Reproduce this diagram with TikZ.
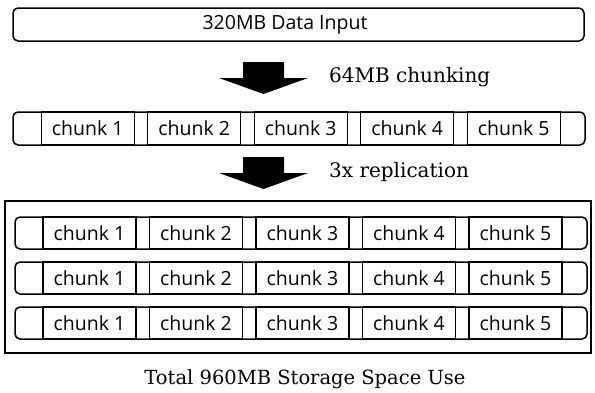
\documentclass[tikz,border=0pt]{standalone}
\usepackage{fontspec}
\setmainfont{DejaVu Serif}
\newfontfamily\chunkfont{Open Sans}
\begin{document}
\begin{tikzpicture}[x=1pt,y=-1pt,
    rowbox/.style={draw, line width=1.5pt, rounded corners=5pt, minimum width=572pt, minimum height=33pt, inner sep=0pt},
    chunkbox/.style={draw, line width=1.3pt, fill=white, minimum width=93pt, minimum height=33pt, inner sep=0pt, font=\chunkfont\fontsize{19.5}{21}\selectfont},
    note/.style={font=\fontsize{20}{22}\selectfont, inner sep=0pt}]

    \useasboundingbox (0,0) rectangle (595,392);

    % input
    \node [rowbox, minimum width=571pt] (input) at (298.5,24.5) {};
    \node [font=\chunkfont\fontsize{19.5}{21}\selectfont, inner sep=0pt] (inputtext) at (285,24.5) {320MB Data Input};

    % first arrow
    \fill (243,62) -- (284,62) -- (284,78) -- (308,78) -- (263.5,94) -- (219,78) -- (243,78) -- cycle;
    \node [note, anchor=west] (chunking) at (329,77) {64MB chunking};

    % chunked data
    \node [rowbox] (row) at (299,128.5) {};
    \node [chunkbox] (c1) at (87.75,128.5) {chunk 1};
    \node [chunkbox] (c2) at (194.25,128.5) {chunk 2};
    \node [chunkbox] (c3) at (300.75,128.5) {chunk 3};
    \node [chunkbox] (c4) at (407.25,128.5) {chunk 4};
    \node [chunkbox] (c5) at (513.75,128.5) {chunk 5};

    % second arrow
    \fill (243,157) -- (284,157) -- (284,173) -- (308,173) -- (263.5,189) -- (219,173) -- (243,173) -- cycle;
    \node [note, anchor=west] (replication) at (329,172) {3x replication};

    % storage
    \draw [line width=1.8pt] (5,201) rectangle (591,353);

    \node [rowbox, minimum height=32pt] (rowa) at (301,233) {};
    \node [chunkbox, minimum height=32pt] (a1) at (89.5,233) {chunk 1};
    \node [chunkbox, minimum height=32pt] (a2) at (196,233) {chunk 2};
    \node [chunkbox, minimum height=32pt] (a3) at (302.5,233) {chunk 3};
    \node [chunkbox, minimum height=32pt] (a4) at (409,233) {chunk 4};
    \node [chunkbox, minimum height=32pt] (a5) at (515.5,233) {chunk 5};

    \node [rowbox, minimum height=32pt] (rowb) at (301,278) {};
    \node [chunkbox, minimum height=32pt] (b1) at (89.5,278) {chunk 1};
    \node [chunkbox, minimum height=32pt] (b2) at (196,278) {chunk 2};
    \node [chunkbox, minimum height=32pt] (b3) at (302.5,278) {chunk 3};
    \node [chunkbox, minimum height=32pt] (b4) at (409,278) {chunk 4};
    \node [chunkbox, minimum height=32pt] (b5) at (515.5,278) {chunk 5};

    \node [rowbox, minimum height=32pt] (rowc) at (301,323) {};
    \node [chunkbox, minimum height=32pt] (d1) at (89.5,323) {chunk 1};
    \node [chunkbox, minimum height=32pt] (d2) at (196,323) {chunk 2};
    \node [chunkbox, minimum height=32pt] (d3) at (302.5,323) {chunk 3};
    \node [chunkbox, minimum height=32pt] (d4) at (409,323) {chunk 4};
    \node [chunkbox, minimum height=32pt] (d5) at (515.5,323) {chunk 5};

    \node [note, font=\fontsize{19.5}{21}\selectfont] (total) at (305,379) {Total 960MB Storage Space Use};

\end{tikzpicture}
\end{document}
